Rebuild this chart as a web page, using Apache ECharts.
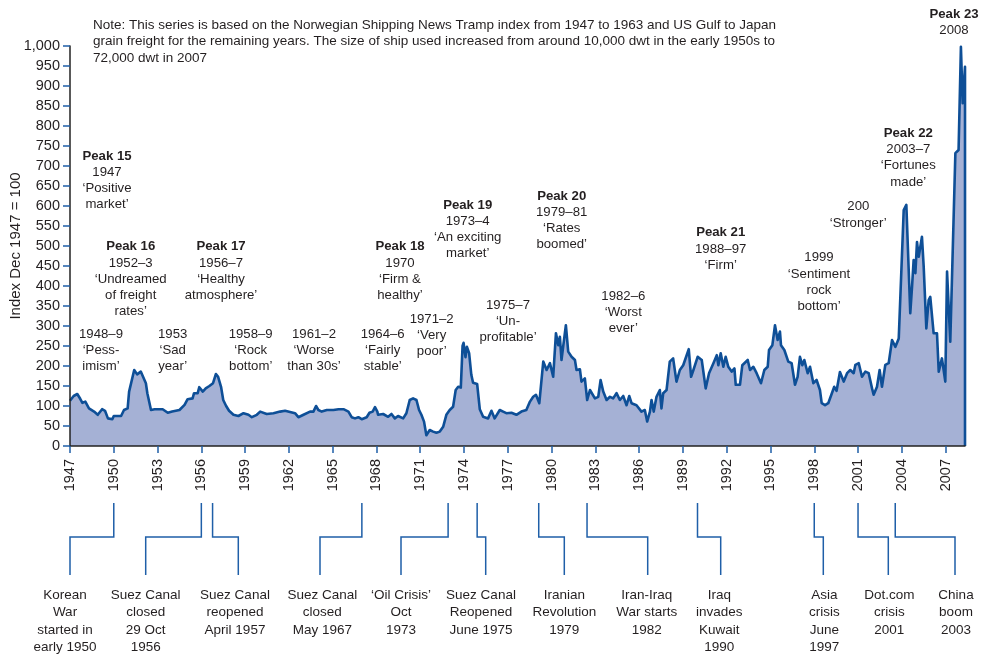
<!DOCTYPE html>
<html><head><meta charset="utf-8">
<script src="https://cdn.jsdelivr.net/npm/echarts@6/dist/echarts.min.js"></script>
<style>html,body{margin:0;padding:0;background:#fff}#c{width:985px;height:654px}</style>
</head><body><div id="c"></div>
<script>
// ---------- DATA ----------
const years = [
1947.0,1947.25,1947.5,1947.7,1947.85,1948.05,1948.3,1948.65,1948.9,1949.2,1949.4,1949.6,1949.9,1950.0,1950.5,1950.7,1950.95,
1951.05,1951.4,1951.6,1951.85,1951.95,1952.2,1952.3,1952.55,1952.8,1953.35,1953.7,1954.0,1954.5,1954.85,1955.06,1955.4,1955.5,
1955.75,1955.86,1956.1,1956.3,1956.55,1956.8,1957.0,1957.15,1957.35,1957.5,1957.7,1957.9,1958.2,1958.54,1958.89,1959.23,1959.46,
1959.8,1960.03,1960.48,1960.94,1961.4,1961.74,1961.85,1962.42,1962.65,1963.0,1963.45,1963.68,1963.86,1964.02,1964.25,1964.6,
1965.05,1965.4,1965.74,1966.08,1966.3,1966.53,1966.76,1966.99,1967.33,1967.52,1967.74,1967.9,1968.06,1968.11,1968.46,1968.8,
1969.03,1969.26,1969.48,1969.83,1970.05,1970.28,1970.51,1970.74,1970.81,1970.92,1971.08,1971.26,1971.42,1971.65,1971.88,1972.11,
1972.34,1972.45,1972.57,1972.79,1973.02,1973.25,1973.43,1973.6,1973.78,1973.9,1973.97,1974.1,1974.2,1974.35,1974.5,1974.62,
1974.9,1975.08,1975.31,1975.65,1975.88,1976.1,1976.45,1976.68,1976.9,1977.02,1977.25,1977.59,1977.93,1978.27,1978.52,1978.74,
1978.93,1979.16,1979.43,1979.66,1979.89,1980.11,1980.3,1980.46,1980.57,1980.68,1980.98,1981.14,1981.37,1981.6,1981.71,1981.94,
1982.05,1982.28,1982.44,1982.63,1982.97,1983.2,1983.36,1983.54,1983.77,1984.0,1984.22,1984.45,1984.68,1984.91,1985.14,1985.32,
1985.48,1985.82,1986.16,1986.39,1986.55,1986.74,1986.85,1987.0,1987.19,1987.42,1987.53,1987.65,1987.88,1988.1,1988.33,1988.56,
1988.79,1989.02,1989.15,1989.4,1989.56,1989.72,1990.01,1990.29,1990.56,1990.79,1991.09,1991.32,1991.43,1991.59,1991.77,1991.93,
1992.11,1992.34,1992.53,1992.62,1992.91,1993.07,1993.44,1993.6,1993.83,1994.05,1994.35,1994.58,1994.81,1994.9,1995.13,1995.31,
1995.49,1995.65,1995.72,1995.95,1996.22,1996.45,1996.68,1996.86,1997.02,1997.18,1997.32,1997.55,1997.71,1997.94,1998.16,1998.39,
1998.51,1998.74,1998.96,1999.19,1999.37,1999.53,1999.76,2000.02,2000.25,2000.47,2000.7,2000.82,2001.05,2001.27,2001.5,2001.73,
2001.96,2002.07,2002.3,2002.48,2002.64,2002.87,2003.1,2003.33,2003.56,2003.79,2003.9,2004.01,2004.13,2004.31,2004.4,2004.58,
2004.7,2004.81,2004.93,2005.04,2005.16,2005.27,2005.38,2005.5,2005.68,2005.84,2005.95,2006.18,2006.41,2006.53,2006.75,2006.98,
2007.1,2007.32,2007.67,2007.89,2008.05,2008.17,2008.33,2008.33
];
const indexValues = [
113,125,130,118,108,111,94,86,78,92,88,69,67,75,75,90,94,
136,190,179,186,190,157,132,90,92,92,83,86,90,103,117,119,132,
132,147,136,144,150,157,180,173,148,115,100,88,78,75,82,78,72,
78,86,80,82,86,88,83,82,72,78,86,86,100,90,86,90,
90,92,92,86,72,69,72,67,72,83,86,97,86,78,80,73,
80,69,75,69,82,115,119,115,119,90,78,61,27,40,36,33,
36,32,48,78,90,98,140,148,146,250,258,222,248,232,178,158,
155,92,73,69,88,69,90,86,82,78,83,78,86,90,111,123,
128,107,211,190,207,173,282,252,273,215,302,236,223,215,190,192,
161,169,115,140,119,123,165,136,115,123,119,132,115,125,102,125,
107,102,86,90,61,86,115,86,123,140,94,132,140,211,219,161,
190,202,198,242,173,190,223,215,144,182,207,227,202,232,198,223,
198,186,194,153,153,202,215,190,198,182,157,190,198,240,252,302,
265,286,252,240,211,207,153,173,223,202,215,182,198,157,165,140,
107,102,107,130,148,138,185,161,182,190,182,203,207,173,186,182,
144,128,148,190,148,203,207,265,248,269,373,378,590,603,607,332,
398,465,432,510,473,498,523,448,294,365,373,282,282,186,219,161,
436,261,732,740,998,857,948,0
];
const xTickLabels = [1947,1950,1953,1956,1959,1962,1965,1968,1971,1974,1977,1980,1983,1986,1989,1992,1995,1998,2001,2004,2007];
const yTickLabels = [0,50,100,150,200,250,300,350,400,450,500,550,600,650,700,750,800,850,900,950,1000];
const yAxisTitle = 'Index Dec 1947 = 100';
const noteLines = [
  'Note: This series is based on the Norwegian Shipping News Tramp index from 1947 to 1963 and US Gulf to Japan',
  'grain freight for the remaining years. The size of ship used increased from around 10,000 dwt in the early 1950s to',
  '72,000 dwt in 2007'
];
const annotationTexts = [
  ['Peak 15','1947','‘Positive','market’'],
  ['Peak 16','1952–3','‘Undreamed','of freight','rates’'],
  ['Peak 17','1956–7','‘Healthy','atmosphere’'],
  ['1948–9','‘Pess-','imism’'],
  ['1953','‘Sad','year’'],
  ['1958–9','‘Rock','bottom’'],
  ['1961–2','‘Worse','than 30s’'],
  ['1964–6','‘Fairly','stable’'],
  ['Peak 18','1970','‘Firm &','healthy’'],
  ['1971–2','‘Very','poor’'],
  ['Peak 19','1973–4','‘An exciting','market’'],
  ['1975–7','‘Un-','profitable’'],
  ['Peak 20','1979–81','‘Rates','boomed’'],
  ['1982–6','‘Worst','ever’'],
  ['Peak 21','1988–97','‘Firm’'],
  ['1999','‘Sentiment','rock','bottom’'],
  ['200','‘Stronger’'],
  ['Peak 22','2003–7','‘Fortunes','made’'],
  ['Peak 23','2008']
];
const eventYears = [1950.0,1956.0,1956.77,1967.0,1972.91,1974.9,1979.12,1982.43,1990.0,1998.0,2001.0,2003.55];
const eventTexts = [
  ['Korean','War','started in','early 1950'],
  ['Suez Canal','closed','29 Oct','1956'],
  ['Suez Canal','reopened','April 1957'],
  ['Suez Canal','closed','May 1967'],
  ['‘Oil Crisis’','Oct','1973'],
  ['Suez Canal','Reopened','June 1975'],
  ['Iranian','Revolution','1979'],
  ['Iran-Iraq','War starts','1982'],
  ['Iraq','invades','Kuwait','1990'],
  ['Asia','crisis','June','1997'],
  ['Dot.com','crisis','2001'],
  ['China','boom','2003']
];

// ---------- LAYOUT (pixels) ----------
const annotationPos = [[107,156],[130.7,246.7],[221,246.7],[101,334.3],[172.7,334.3],[250.7,334.3],[314,334.3],[382.7,334.3],
  [400,246.7],[431.7,319.3],[467.7,205],[508,305],[561.7,196],[623.3,296],[720.7,232.7],[819,257.7],[858.3,206.7],[908.3,133.3],[954,14]];
const eventDropX = [70,145.7,238.3,320,401,485.7,564.3,647.7,720.7,823.3,888.3,955];
const eventTextX = [65,145.7,235,322.3,401,481,564.3,646.7,719.3,824.3,889.3,956];

const FONT = '"Liberation Sans", Arial, Helvetica, sans-serif';
const TEXT = '#231f20';
const BLUE = '#1f5fa8';

const chart = echarts.init(document.getElementById('c'));
const option = {
  animation: false,
  backgroundColor: '#fff',
  grid: {left: 70, right: 20, top: 46, bottom: 208, containLabel: false, outerBoundsMode: 'none'},
  xAxis: {
    type: 'value', min: 1947, max: 2008.33, interval: 3, z: 10,
    axisLine: {lineStyle: {color: '#222', width: 1.5}},
    axisTick: {show: true, length: 7, lineStyle: {color: BLUE, width: 1.5}, customValues: xTickLabels},
    axisLabel: {rotate: 90, margin: 13, fontSize: 14.5, fontFamily: FONT, color: TEXT, customValues: xTickLabels,
      formatter: v => String(Math.round(v))},
    splitLine: {show: false}
  },
  yAxis: {
    type: 'value', min: 0, max: 1000, interval: 50, z: 10,
    name: yAxisTitle, nameLocation: 'middle', nameGap: 47, nameRotate: 90, nameMoveOverlap: false,
    nameTextStyle: {fontSize: 15, fontFamily: FONT, color: TEXT},
    axisLine: {show: true, lineStyle: {color: '#222', width: 1.5}},
    axisTick: {show: true, length: 7, lineStyle: {color: BLUE, width: 1.5}},
    axisLabel: {margin: 10, fontSize: 14.5, fontFamily: FONT, color: TEXT,
      formatter: v => v.toLocaleString('en-US')},
    splitLine: {show: false}
  },
  series: [{
    type: 'line',
    data: years.map((y, i) => [y, indexValues[i]]),
    showSymbol: false, symbol: 'none', smooth: false,
    lineStyle: {color: '#0e4f97', width: 2.6, join: 'round'},
    areaStyle: {color: '#a5b1d5', opacity: 1},
    z: 2
  }]
};
chart.setOption(option);

function txt(x, y, s, opts) {
  opts = opts || {};
  return {
    type: 'text', silent: true, z: 20,
    style: {
      text: s, x: x, y: y, fill: TEXT,
      fontSize: opts.size || 13.2, fontFamily: FONT, fontWeight: opts.bold ? 'bold' : 'normal',
      align: opts.align || 'center', textAlign: opts.align || 'center',
      verticalAlign: 'middle', textVerticalAlign: 'middle'
    }
  };
}

const g = [];
noteLines.forEach((l, i) => g.push(txt(93, 25 + i * 16.5, l, {align: 'left', size: 13.5})));
annotationTexts.forEach((lines, k) => {
  const [cx, cy] = annotationPos[k];
  lines.forEach((l, i) => g.push(txt(cx, cy + i * 16.2, l, {bold: i === 0 && l.indexOf('Peak') === 0})));
});
eventYears.forEach((yr, k) => {
  const xTop = chart.convertToPixel({gridIndex: 0}, [yr, 0])[0];
  const xd = eventDropX[k];
  g.push({type: 'polyline', silent: true, z: 20,
    shape: {points: [[xTop, 503], [xTop, 537], [xd, 537], [xd, 575]]},
    style: {stroke: BLUE, lineWidth: 1.5, fill: null}});
  eventTexts[k].forEach((l, i) => g.push(txt(eventTextX[k], 595 + i * 17.4, l, {size: 13.5})));
});
chart.setOption({graphic: g});
</script>
</body></html>
